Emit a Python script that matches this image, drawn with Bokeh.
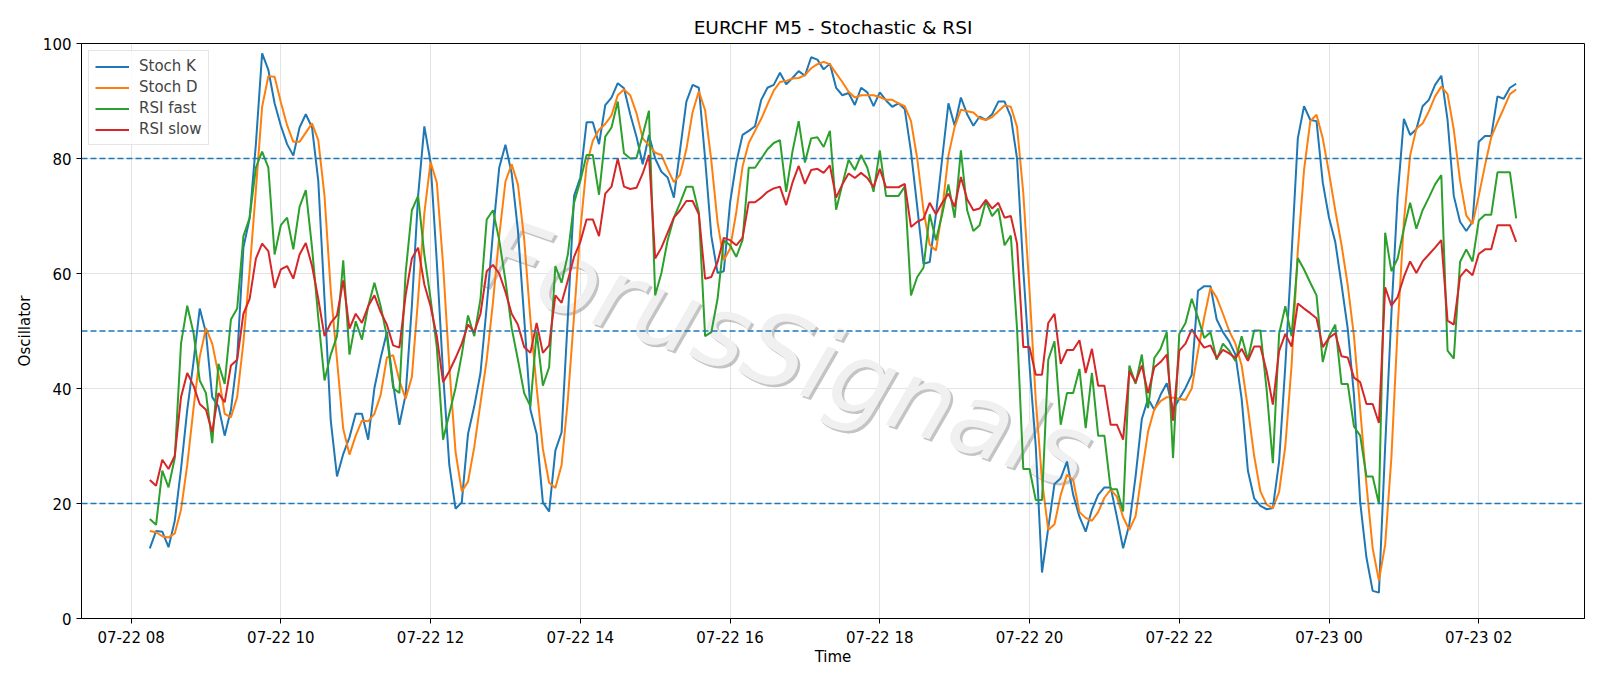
import pandas as pd
from bokeh.plotting import figure
from bokeh.models import (ColumnDataSource, Range1d, FixedTicker, DatetimeTickFormatter,
                          Span, Label)
from bokeh.embed import file_html
from bokeh.resources import INLINE

# ---------------- data ----------------
start_time = "2025-07-22 08:15"
bar_minutes = 5

stoch_k = [12.2, 15.2, 15.1, 12.4, 17.0, 26.0, 36.3, 44.6, 53.9, 49.7,
           38.5, 36.9, 31.8, 36.3, 45.3, 64.5, 69.6, 82.5, 98.3, 95.4,
           89.6, 85.7, 82.5, 80.5, 85.4, 87.7, 85.4, 76.1, 55.6, 34.4,
           24.7, 28.6, 31.5, 35.6, 35.6, 31.1, 40.1, 45.3, 49.8, 40.8,
           33.7, 38.9, 54.3, 73.5, 85.6, 79.3, 62.0, 42.7, 26.7, 19.1,
           20.2, 32.1, 36.9, 42.7, 54.3, 67.1, 78.4, 82.4, 77.4, 67.5,
           52.3, 36.3, 32.1, 20.2, 18.6, 29.2, 32.4, 52.3, 73.5, 76.7,
           86.3, 86.3, 82.5, 89.3, 90.6, 93.1, 92.2, 87.7, 83.8, 79.0,
           84.1, 80.0, 77.7, 76.7, 73.2, 81.6, 89.9, 92.8, 92.3, 80.0,
           66.5, 60.1, 60.4, 72.3, 79.3, 84.1, 84.8, 85.6, 90.2, 92.3,
           92.8, 94.9, 92.9, 94.0, 95.2, 94.4, 97.6, 97.2, 95.5, 96.5,
           92.3, 91.0, 91.4, 89.3, 92.3, 91.5, 89.1, 91.5, 90.1, 89.0,
           89.6, 88.6, 81.2, 71.6, 61.7, 62.0, 70.3, 80.0, 89.6, 85.7,
           90.6, 87.7, 85.7, 87.3, 86.7, 87.7, 89.9, 89.9, 87.3, 80.0,
           60.7, 44.0, 29.9, 8.0, 15.7, 23.4, 24.4, 27.3, 21.5, 17.7,
           15.1, 18.9, 21.5, 22.8, 22.8, 17.7, 12.2, 16.4, 24.7, 34.7,
           38.2, 36.3, 38.9, 40.9, 36.3, 38.2, 40.1, 42.4, 57.0, 57.8,
           57.8, 52.0, 49.8, 48.2, 45.9, 38.2, 25.7, 20.9, 19.6, 19.0,
           19.2, 27.3, 44.0, 63.3, 83.5, 89.1, 86.7, 86.5, 75.8, 69.7,
           65.5, 58.1, 50.4, 38.9, 20.2, 10.6, 4.8, 4.5, 29.9, 53.0,
           73.5, 86.9, 84.1, 85.1, 89.1, 90.2, 92.8, 94.4, 86.7, 73.5,
           69.0, 67.4, 69.0, 82.9, 83.9, 83.9, 90.8, 90.4, 92.3, 93.0]

stoch_d = [15.2, 15.0, 14.3, 14.1, 14.8, 18.9, 26.7, 36.5, 45.5, 50.5,
           47.8, 42.5, 35.6, 35.0, 38.5, 48.0, 60.5, 74.5, 89.0, 94.3,
           94.2, 89.8, 85.8, 82.9, 82.9, 84.5, 86.1, 83.2, 73.5, 57.0,
           45.0, 33.0, 28.5, 31.8, 34.4, 34.3, 35.6, 38.9, 45.4, 45.8,
           41.4, 38.2, 42.0, 55.6, 70.5, 79.4, 75.8, 61.6, 43.9, 29.0,
           22.1, 23.8, 29.8, 37.5, 45.0, 55.0, 66.5, 76.0, 79.0, 75.5,
           66.0, 52.0, 40.2, 29.5, 23.6, 22.7, 26.7, 38.0, 52.7, 67.5,
           78.8, 83.1, 85.0, 86.0, 87.5, 91.0, 92.0, 91.0, 87.9, 83.5,
           82.3, 81.0, 80.6, 78.1, 75.9, 77.2, 81.6, 88.1, 91.7, 88.4,
           79.6, 68.9, 62.3, 64.3, 70.7, 78.6, 82.7, 84.8, 86.9, 89.4,
           91.8, 93.3, 93.5, 93.9, 94.0, 94.5, 95.7, 96.4, 96.8, 96.4,
           94.8, 93.3, 91.6, 90.6, 91.0, 91.0, 91.0, 90.7, 90.2, 90.2,
           89.6, 89.1, 86.5, 80.0, 71.0, 65.0, 64.0, 71.0, 80.5, 85.5,
           88.5, 88.2, 88.0, 87.0, 86.7, 87.2, 88.2, 89.2, 89.0, 85.5,
           74.0, 57.0, 38.0, 24.0, 15.4, 16.4, 21.5, 25.0, 24.1, 18.5,
           17.5, 17.0, 18.5, 21.0, 22.4, 21.2, 17.6, 15.4, 17.8, 25.3,
           32.5, 36.4, 37.8, 38.5, 38.4, 38.2, 38.0, 40.0, 46.5, 52.4,
           57.5, 55.8, 53.0, 50.0, 47.8, 44.0, 36.6, 28.3, 22.1, 19.8,
           19.2, 22.0, 30.0, 44.0, 64.0, 78.0, 86.5, 87.6, 83.5, 77.5,
           71.0, 65.0, 58.0, 49.1, 36.4, 23.3, 12.2, 6.6, 12.8, 28.0,
           50.5, 69.0, 80.5, 85.2, 86.1, 88.2, 90.8, 92.5, 91.2, 85.0,
           76.2, 70.1, 68.6, 73.5, 78.8, 83.7, 86.3, 88.7, 91.2, 92.0]

rsi_fast = [17.3, 16.3, 25.7, 22.8, 27.9, 47.8, 54.4, 49.7, 41.4, 39.2,
            30.5, 44.3, 40.8, 52.0, 53.9, 66.5, 69.7, 78.4, 81.2, 78.4,
            63.3, 68.4, 69.7, 64.2, 71.6, 74.5, 64.5, 52.3, 41.4, 45.9,
            49.1, 62.3, 45.9, 51.7, 48.5, 54.3, 58.4, 54.3, 49.1, 40.1,
            39.2, 60.1, 71.0, 73.5, 63.3, 55.6, 47.2, 31.1, 35.6, 40.1,
            45.9, 52.7, 49.1, 55.6, 69.4, 71.0, 65.8, 58.8, 50.5, 45.0,
            39.2, 36.9, 49.8, 40.5, 43.7, 61.3, 58.4, 63.3, 72.3, 76.1,
            80.6, 80.6, 73.7, 83.8, 85.4, 89.9, 80.9, 80.0, 80.1, 84.1,
            88.3, 56.2, 60.1, 65.8, 69.7, 72.3, 75.1, 75.1, 70.6, 49.1,
            49.8, 55.6, 65.8, 64.9, 62.9, 65.8, 78.4, 78.4, 80.0, 81.6,
            82.7, 83.2, 74.2, 81.2, 86.5, 79.3, 83.5, 83.7, 82.0, 84.8,
            71.1, 75.5, 79.8, 78.0, 80.6, 78.4, 74.2, 81.4, 73.5, 73.5,
            73.5, 75.1, 56.2, 59.4, 61.0, 70.3, 65.8, 70.3, 75.5, 69.7,
            81.4, 71.0, 67.4, 68.4, 72.6, 70.0, 71.3, 64.9, 66.6, 50.4,
            26.0, 26.0, 20.6, 20.6, 45.0, 48.2, 33.7, 39.2, 39.2, 43.4,
            33.1, 42.7, 31.8, 31.8, 22.5, 22.5, 18.6, 44.0, 40.8, 45.9,
            36.6, 45.3, 46.9, 49.8, 27.9, 49.5, 51.4, 55.6, 52.3, 48.8,
            49.8, 45.0, 47.8, 46.6, 44.8, 49.1, 45.0, 50.1, 50.1, 39.8,
            27.0, 49.5, 54.3, 49.1, 62.7, 60.7, 58.4, 56.2, 44.6, 49.1,
            51.1, 40.8, 40.8, 33.4, 31.8, 24.7, 24.7, 19.9, 67.1, 60.4,
            62.6, 67.8, 72.3, 67.8, 71.0, 73.2, 75.5, 77.1, 46.6, 45.2,
            62.0, 64.2, 62.1, 69.2, 70.2, 70.2, 77.6, 77.6, 77.6, 69.6]

rsi_slow = [24.1, 23.1, 27.6, 26.0, 28.3, 38.5, 42.7, 40.5, 37.3, 36.3,
            32.4, 39.2, 37.6, 44.0, 45.0, 53.0, 55.6, 62.6, 65.2, 63.9,
            57.5, 60.7, 61.3, 59.1, 63.3, 65.3, 61.3, 55.6, 49.1, 51.4,
            52.7, 58.8, 50.4, 53.0, 51.4, 54.3, 56.2, 53.3, 51.1, 47.5,
            47.1, 56.2, 62.6, 64.5, 58.1, 54.3, 49.1, 41.1, 43.0, 45.3,
            47.8, 51.1, 49.8, 53.0, 60.4, 61.5, 60.0, 56.8, 53.0, 51.1,
            47.2, 46.2, 51.4, 46.2, 47.5, 56.2, 54.9, 58.8, 62.9, 65.5,
            69.4, 69.4, 66.5, 73.9, 75.1, 80.0, 75.1, 74.7, 74.9, 77.4,
            80.6, 62.6, 64.5, 67.1, 69.7, 71.0, 72.6, 72.6, 70.3, 59.1,
            59.4, 62.0, 66.2, 65.8, 64.9, 66.2, 72.4, 72.4, 73.2, 74.2,
            74.8, 75.1, 71.9, 75.8, 78.7, 75.6, 78.0, 78.2, 77.5, 78.8,
            73.2, 75.5, 77.4, 76.6, 77.5, 76.6, 75.0, 78.2, 75.0, 75.0,
            75.0, 75.6, 68.1, 69.0, 69.5, 72.3, 70.3, 72.3, 73.9, 71.6,
            76.8, 72.9, 71.0, 71.3, 72.8, 71.3, 72.3, 69.7, 70.0, 65.2,
            47.2, 47.2, 42.4, 42.4, 51.4, 53.0, 44.3, 46.7, 46.7, 48.4,
            42.7, 46.9, 40.5, 40.5, 33.7, 33.7, 31.1, 43.0, 41.1, 44.0,
            39.2, 43.7, 44.6, 45.9, 34.4, 46.6, 47.8, 50.3, 48.6, 47.1,
            47.5, 45.3, 46.7, 46.1, 45.3, 46.9, 44.8, 47.3, 47.3, 43.0,
            37.2, 46.5, 49.5, 47.3, 54.8, 53.9, 53.1, 52.2, 47.2, 48.8,
            49.6, 45.6, 45.4, 41.9, 41.1, 37.3, 37.3, 34.0, 57.6, 54.4,
            55.9, 59.4, 62.1, 60.1, 62.1, 63.3, 64.5, 65.8, 51.8, 51.1,
            59.4, 60.7, 59.7, 63.4, 64.2, 64.2, 68.4, 68.4, 68.4, 65.5]

levels = [20, 50, 80]
tick_start = "2025-07-22 08:00"
tick_end = "2025-07-23 02:00"
series_labels = ["Stoch K", "Stoch D", "RSI fast", "RSI slow"]
series_colors = ["#1f77b4", "#ff7f0e", "#2ca02c", "#d62728"]
title_text = "EURCHF M5 - Stochastic & RSI"
watermark = "ForusSignals"

# ---------------- build ----------------
times = pd.date_range(start=start_time, periods=len(stoch_k), freq=f"{bar_minutes}min")
src = ColumnDataSource(dict(time=times, k=stoch_k, d=stoch_d, rf=rsi_fast, rs=rsi_slow))

def ms(ts):
    return pd.Timestamp(ts).value / 1e6

t0, t1 = ms(times[0]), ms(times[-1])
pad = (t1 - t0) * 0.05

FONT = "DejaVu Sans"
p = figure(width=1600, height=686, x_axis_type="datetime", output_backend="svg",
           toolbar_location=None, x_range=Range1d(t0 - pad, t1 + pad),
           y_range=Range1d(0, 100), title=title_text)
p.min_border_left = 81
p.min_border_right = 16
p.min_border_top = 43
p.min_border_bottom = 68
p.background_fill_color = "white"
p.border_fill_color = "white"
p.outline_line_color = "black"
p.outline_line_width = 1
p.outline_line_alpha = 1

p.title.align = "center"
p.title.text_font = FONT
p.title.text_font_size = "18.5px"
p.title.text_font_style = "normal"
p.title.text_color = "black"
p.title.standoff = 12

# watermark
wm_x = ms("2025-07-22 16:46")
wm_kw = dict(x=wm_x, y=46, text=watermark, angle=-19, angle_units="deg",
             text_font=FONT, text_font_size="100px", text_font_style="italic",
             text_align="center", text_baseline="middle", level="underlay")
p.add_layout(Label(text_color="#8a8a8a", text_alpha=0.5, x_offset=2.5, y_offset=-2.5, **wm_kw))
p.add_layout(Label(text_color="#f0f0f0", text_alpha=1.0, **wm_kw))

cols = ["k", "d", "rf", "rs"]
for c, lab, col in zip(cols, series_labels, series_colors):
    p.line("time", c, source=src, line_color=col, line_width=2, legend_label=lab)

for lv in levels:
    p.add_layout(Span(location=lv, dimension="width", line_color="#1f77b4",
                      line_dash="6 3", line_width=1.3))

ticks = [ms(t) for t in pd.date_range(tick_start, tick_end, freq="2h")]
xt = FixedTicker(ticks=ticks)
p.xaxis.ticker = xt
p.xgrid.ticker = xt
fmt = "%m-%d %H"
p.xaxis.formatter = DatetimeTickFormatter(hours=fmt, days=fmt, hourmin=fmt,
                                          minutes=fmt, months=fmt)
yt = FixedTicker(ticks=[0, 20, 40, 60, 80, 100])
p.yaxis.ticker = yt
p.ygrid.ticker = yt

for ax in (p.xaxis, p.yaxis):
    ax.axis_line_color = "black"
    ax.major_tick_line_color = "black"
    ax.major_tick_out = 5
    ax.major_tick_in = 0
    ax.minor_tick_out = 0
    ax.minor_tick_in = 0
    ax.major_label_text_font = FONT
    ax.major_label_text_font_size = "15px"
    ax.major_label_text_color = "black"
    ax.major_label_standoff = 5
    ax.axis_label_text_font = FONT
    ax.axis_label_text_font_size = "15px"
    ax.axis_label_text_font_style = "normal"
    ax.axis_label_text_color = "black"
p.xaxis.axis_label = "Time"
p.yaxis.axis_label = "Oscillator"
p.xaxis.axis_label_standoff = -2
p.yaxis.axis_label_standoff = 6

for g in (p.xgrid, p.ygrid):
    g.grid_line_color = "#b0b0b0"
    g.grid_line_alpha = 0.35
    g.grid_line_width = 1

lg = p.legend[0]
lg.location = "top_left"
lg.margin = 7
lg.padding = 6
lg.spacing = 3
lg.label_height = 17
lg.glyph_height = 17
lg.glyph_width = 34
lg.label_standoff = 10
lg.label_text_font = FONT
lg.label_text_font_size = "15px"
lg.border_line_color = "#cccccc"
lg.border_line_width = 1
lg.background_fill_alpha = 0.8

open("out.html", "w").write(file_html(p, INLINE))
